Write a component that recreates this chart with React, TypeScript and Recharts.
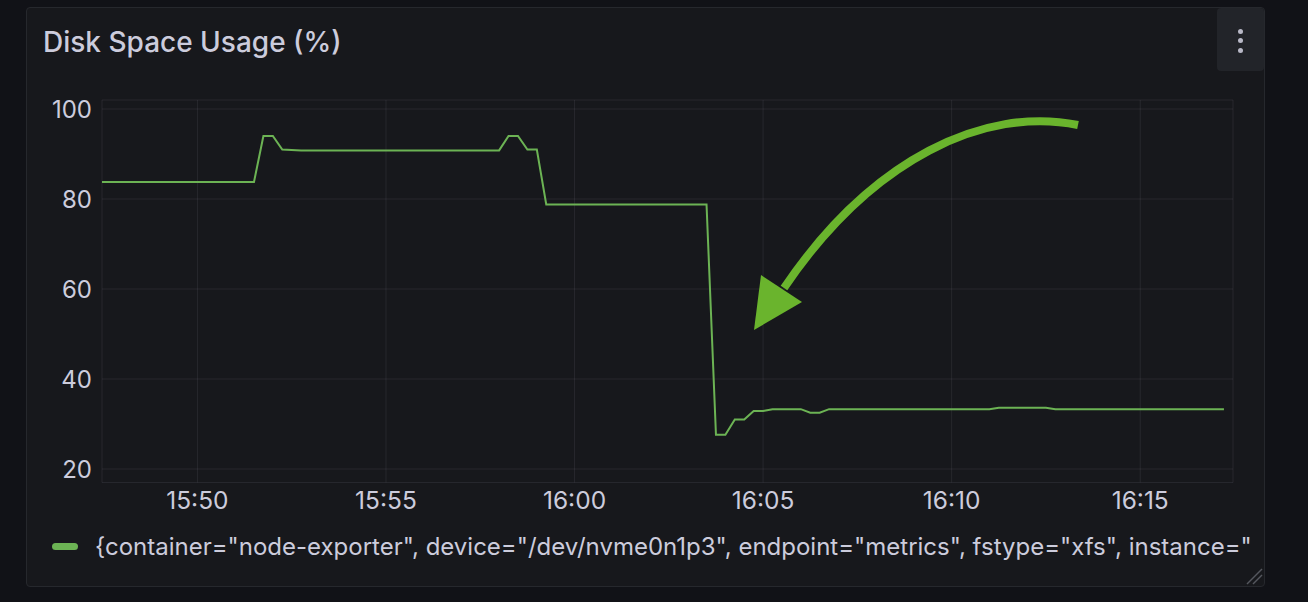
import React from 'react';
import {
  LineChart,
  Line,
  XAxis,
  YAxis,
  CartesianGrid,
  Legend,
} from 'recharts';

// minutes after 15:00
const times = [
  47.47, 51.5, 51.75, 52.0, 52.25, 52.75, 58.0, 58.25, 58.5, 58.75, 59.0, 59.25,
  63.5, 63.75, 64.0, 64.25, 64.5, 64.75, 65.0, 65.25, 66.0, 66.25, 66.5, 66.75,
  71.0, 71.25, 72.5, 72.75, 77.22,
];
const usage = [
  83.8, 83.8, 94, 94, 91, 90.8, 90.8, 94, 94, 91, 91, 78.8,
  78.8, 27.6, 27.6, 31, 31, 32.9, 32.9, 33.3, 33.3, 32.5, 32.5, 33.3,
  33.3, 33.6, 33.6, 33.3, 33.3,
];
const xTicks = [50, 55, 60, 65, 70, 75];
const yTicks = [20, 40, 60, 80, 100];
// label as far as the panel shows it
const seriesName =
  '{container="node-exporter", device="/dev/nvme0n1p3", endpoint="metrics", fstype="xfs", instance="';

const data = times.map((t, i) => ({ t, usage: usage[i] }));

const GREEN = '#6cb354';
const TEXT = '#ccccdc';
const FONT = 'Inter, "Noto Sans", sans-serif';

const fmtTime = (m: number) => {
  const h = 15 + Math.floor(m / 60);
  const mm = Math.round(m % 60);
  return `${h}:${mm < 10 ? '0' + mm : mm}`;
};

function LegendContent() {
  return (
    <div
      style={{
        display: 'flex',
        alignItems: 'center',
        width: 1220,
        whiteSpace: 'nowrap',
        fontFamily: FONT,
        fontSize: 24,
        color: TEXT,
        height: 30,
      }}
    >
      <span
        style={{
          display: 'inline-block',
          width: 26,
          height: 7,
          borderRadius: 4,
          background: GREEN,
          marginLeft: 10,
          marginRight: 17,
          flex: 'none',
        }}
      />
      <span>{seriesName}</span>
    </div>
  );
}

export default function App() {
  return (
    <div
      style={{
        position: 'fixed',
        left: 0,
        top: 0,
        width: 1308,
        height: 602,
        background: '#111217',
        overflow: 'hidden',
        fontFamily: FONT,
      }}
    >
      {/* panel */}
      <div
        style={{
          position: 'absolute',
          left: 26,
          top: 7,
          width: 1239,
          height: 580,
          background: '#17181c',
          border: '1px solid #26282d',
          borderRadius: 4,
          boxSizing: 'border-box',
        }}
      />
      <div
        style={{
          position: 'absolute',
          left: 43,
          top: 22,
          fontSize: 28,
          fontWeight: 500,
          color: TEXT,
          lineHeight: '40px',
        }}
      >
        Disk Space Usage (%)
      </div>
      {/* menu button */}
      <div
        style={{
          position: 'absolute',
          left: 1217,
          top: 8,
          width: 47,
          height: 63,
          background: '#222429',
          borderRadius: 4,
        }}
      >
        {[23, 32.5, 42].map((y) => (
          <div
            key={y}
            style={{
              position: 'absolute',
              left: 20.5,
              top: y - 2.5,
              width: 5,
              height: 5,
              borderRadius: 3,
              background: '#b8b8c6',
            }}
          />
        ))}
      </div>

      <div style={{ position: 'absolute', left: 0, top: 0 }}>
        <LineChart
          width={1308}
          height={602}
          data={data}
          margin={{ top: 100, right: 75, bottom: 41, left: 42 }}
        >
          <CartesianGrid stroke="rgba(204,204,220,0.09)" />
          <XAxis
            dataKey="t"
            type="number"
            domain={[47.47, 77.46]}
            ticks={xTicks}
            tickFormatter={fmtTime}
            axisLine={false}
            tickLine={false}
            tickMargin={3}
            height={48.5}
            tick={{ fill: TEXT, fontSize: 24.5, fontFamily: FONT }}
          />
          <YAxis
            type="number"
            domain={[17, 102]}
            ticks={yTicks}
            axisLine={false}
            tickLine={false}
            width={60}
            tickMargin={4}
            tick={{ fill: TEXT, fontSize: 24, fontFamily: FONT }}
          />
          <Legend
            verticalAlign="bottom"
            align="left"
            height={30}
            content={() => <LegendContent />}
          />
          <Line
            type="linear"
            dataKey="usage"
            stroke={GREEN}
            strokeWidth={2}
            dot={false}
            isAnimationActive={false}
          />
        </LineChart>
      </div>

      {/* annotation arrow */}
      <svg
        width={1308}
        height={602}
        style={{ position: 'absolute', left: 0, top: 0, pointerEvents: 'none' }}
      >
        <path
          d="M 1078 125 C 985 106, 872 158, 784 288"
          fill="none"
          stroke="#6ab42d"
          strokeWidth={8}
        />
        <polygon points="754,330 761,275 802,302" fill="#6ab42d" />
        {/* resize handle */}
        <line x1={1247} y1={584} x2={1262} y2={569} stroke="#55575e" strokeWidth={1.5} />
        <line x1={1253} y1={584} x2={1262} y2={575} stroke="#55575e" strokeWidth={1.5} />
      </svg>
    </div>
  );
}
